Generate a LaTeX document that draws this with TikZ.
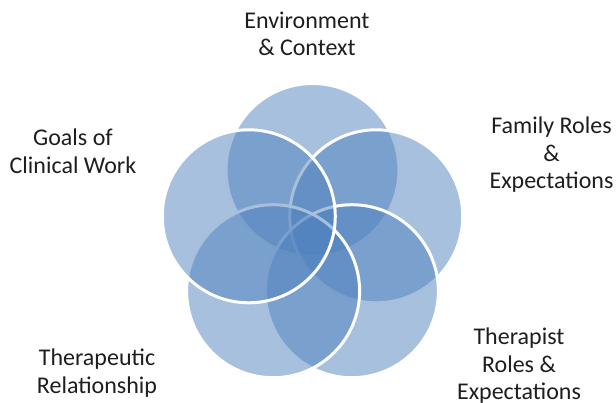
\documentclass[tikz,border=0pt]{standalone}
\usepackage{fontspec}
\setmainfont{Carlito}
\definecolor{ringblue}{RGB}{79,129,189}
\definecolor{labelgray}{RGB}{30,30,30}
\begin{document}
\begin{tikzpicture}[x=1pt,y=-1pt,
  ring/.style={circle, minimum size=173pt, inner sep=0pt, outer sep=0pt,
    draw=white, line width=3pt, fill=ringblue, fill opacity=0.5, draw opacity=1},
  % labels are placed by the baseline of their last line
  label/.style={anchor=base, align=center, inner sep=0pt, text=labelgray,
    font=\fontsize{24}{27.5}\selectfont}]
  \useasboundingbox (0,0) rectangle (616,402);
  \coordinate (hub) at (312.5,237);
  % five overlapping circles, drawn clockwise from the top
  \node[ring] (envc)    at ([shift={(90:67pt)}]hub)  {};
  \node[ring] (famc)    at ([shift={(18:67pt)}]hub)  {};
  \node[ring] (therc)   at ([shift={(-54:67pt)}]hub) {};
  \node[ring] (relc)    at ([shift={(-126:67pt)}]hub) {};
  \node[ring] (goalc)   at ([shift={(162:67pt)}]hub) {};
  % labels
  \node[label] (envt)   at (307,55.7)    {Environment\\\& Context};
  \node[label] (goalt)  at (73,173.3)    {Goals of\\Clinical Work};
  \node[label] (famt)   at (551.5,188.8) {Family Roles\\\&\\Expectations};
  \node[label] (relt)   at (97,393.3)    {Therapeutic\\Relationship};
  \node[label] (thert)  at (519,399.5)   {Therapist\\Roles \&\\Expectations};
\end{tikzpicture}
\end{document}
